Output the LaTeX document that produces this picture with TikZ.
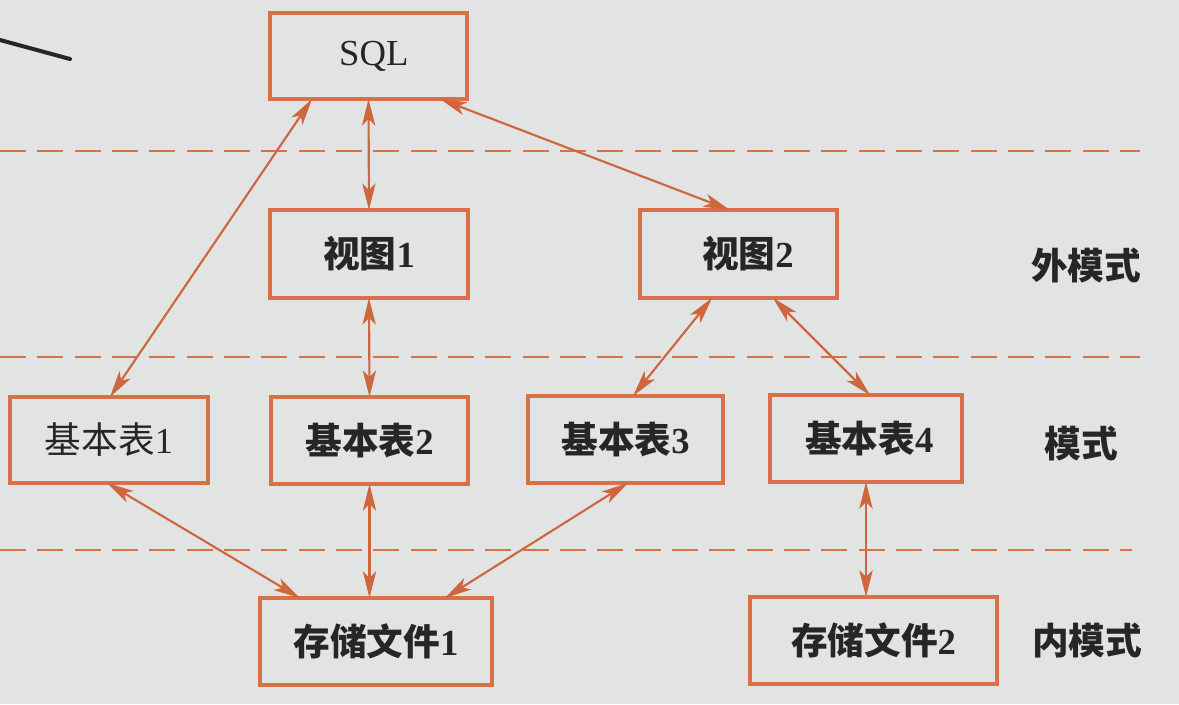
\documentclass[tikz,border=0pt]{standalone}
\usepackage{fontspec}
\setmainfont{Liberation Serif}
\newfontfamily\cjk{Noto Sans CJK SC}
\usetikzlibrary{arrows.meta,calc}
\definecolor{paper}{RGB}{226,228,227}
\definecolor{boxc}{RGB}{216,112,72}
\definecolor{arrc}{RGB}{206,102,62}
\definecolor{txt}{RGB}{38,38,38}
\tikzset{
  box/.style={draw=boxc, line width=2.5pt, rectangle, inner sep=0pt, outer sep=0pt, text=txt, font=\fontsize{27.5}{32}\selectfont\bfseries},
  arr/.style={draw=arrc, line width=1.6pt, {Stealth[length=20pt,width=10pt,inset=5pt]}-{Stealth[length=20pt,width=10pt,inset=5pt]}},
  sepline/.style={draw=boxc, line width=2pt, dash pattern=on 19.5pt off 8.5pt},
  lvl/.style={text=txt, font=\fontsize{27.5}{32}\selectfont\bfseries\cjk, inner sep=0pt}
}
\begin{document}
\begin{tikzpicture}[x=0.75pt,y=-0.75pt]
\fill[paper] (0,0) rectangle (1179,704);
\useasboundingbox (0,0) rectangle (1179,704);
% stray stroke
\draw[line width=3pt, black!85, line cap=round] (0,40) -- (70,59);
% level separators
\draw[sepline] (0,151) -- (1140,151);
\draw[sepline] (0,357) -- (1140,357);
\draw[sepline] (0,550) -- (1132,550);
% boxes
\node[box, minimum width=197*0.75pt, minimum height=86*0.75pt, font=\fontsize{27.5}{32}\selectfont] (sql) at (368.5,56) {\hspace*{8pt}SQL};
\node[box, minimum width=198*0.75pt, minimum height=88*0.75pt] (v1) at (369,254) {{\cjk 视图}1};
\node[box, minimum width=197*0.75pt, minimum height=88*0.75pt] (v2) at (738.5,254) {\hspace*{14pt}{\cjk 视图}2};
\node[box, minimum width=198*0.75pt, minimum height=86*0.75pt, font=\fontsize{27.5}{32}\selectfont] (b1) at (109,440) {{\cjk 基本表}1};
\node[box, minimum width=197*0.75pt, minimum height=87*0.75pt] (b2) at (369.5,440.5) {{\cjk 基本表}2};
\node[box, minimum width=195*0.75pt, minimum height=87*0.75pt] (b3) at (625.5,439.5) {{\cjk 基本表}3};
\node[box, minimum width=192*0.75pt, minimum height=87*0.75pt] (b4) at (866,438.5) {\hspace*{5pt}{\cjk 基本表}4};
\node[box, minimum width=232*0.75pt, minimum height=87*0.75pt] (f1) at (376,641.5) {{\cjk 存储文件}1};
\node[box, minimum width=247*0.75pt, minimum height=87*0.75pt] (f2) at (873.5,640.5) {{\cjk 存储文件}2};
% level labels
\node[lvl] (lext) at (1086,266) {外模式};
\node[lvl] (lcon) at (1081,443) {模式};
\node[lvl] (lint) at (1087,641) {内模式};
% connectors
\draw[arr] (sql.south) -- (v1.north);
\draw[arr] ($(sql.south west)+(42,0)$) -- ($(b1.north west)+(100,0)$);
\draw[arr] ($(sql.south east)+(-27,0)$) -- ($(v2.north west)+(90,0)$);
\draw[arr] (v1.south) -- (b2.north);
\draw[arr] ($(v2.south west)+(72,0)$) -- ($(b3.north west)+(105,0)$);
\draw[arr] ($(v2.south west)+(133,0)$) -- ($(b4.north west)+(100,0)$);
\draw[arr] ($(b1.south west)+(97,0)$) -- ($(f1.north west)+(40,0)$);
\draw[arr] (b2.south) -- (b2.south |- f1.north);
\draw[arr] ($(b3.south west)+(100,0)$) -- ($(f1.north west)+(185,0)$);
\draw[arr] (b4.south) -- (b4.south |- f2.north);
\end{tikzpicture}
\end{document}
